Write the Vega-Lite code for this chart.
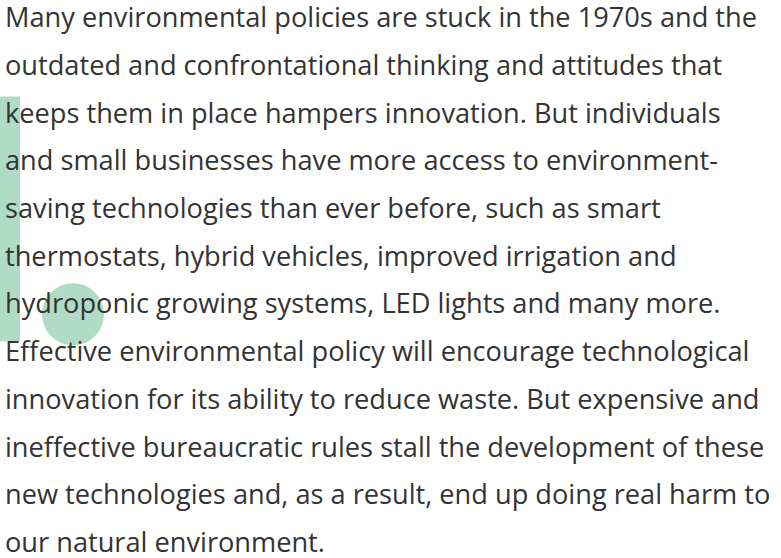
{
  "$schema": "https://vega.github.io/schema/vega-lite/v6.json",
  "autosize": {"type": "fit", "contains": "padding"},
  "width": 781,
  "height": 558,
  "padding": 0,
  "background": "#ffffff",
  "config": {"view": {"stroke": null}},
  "datasets": {
    "lines": [
      {"line": 0, "indent": 5, "text": "Many environmental policies are stuck in the 1970s and the"},
      {"line": 1, "indent": 5, "text": "outdated and confrontational thinking and attitudes that"},
      {"line": 2, "indent": 5, "text": "keeps them in place hampers innovation. But individuals"},
      {"line": 3, "indent": 5, "text": "and small businesses have more access to environment-"},
      {"line": 4, "indent": 5, "text": "saving technologies than ever before, such as smart"},
      {"line": 5, "indent": 5, "text": "thermostats, hybrid vehicles, improved irrigation and"},
      {"line": 6, "indent": 5, "text": "hydroponic growing systems, LED lights and many more."},
      {"line": 7, "indent": 5, "text": "Effective environmental policy will encourage technological"},
      {"line": 8, "indent": 5, "text": "innovation for its ability to reduce waste. But expensive and"},
      {"line": 9, "indent": 5, "text": "ineffective bureaucratic rules stall the development of these"},
      {"line": 10, "indent": 5, "text": "new technologies and, as a result, end up doing real harm to"},
      {"line": 11, "indent": 5, "text": "our natural environment."}
    ],
    "bar": [{"x0": 0, "x1": 20, "top": 1.453, "bottom": 6.581}],
    "dot": [{"x": 73, "line": 6.018}]
  },
  "layer": [
    {
      "data": {"name": "bar"},
      "mark": {"type": "rect", "color": "#b0dbc6"},
      "encoding": {
        "x": {"field": "x0", "type": "quantitative", "scale": {"domain": [0, 781], "nice": false, "zero": false}, "axis": null},
        "x2": {"field": "x1"},
        "y": {"field": "top", "type": "quantitative", "scale": {"domain": [-0.569, 11.063], "nice": false, "zero": false, "reverse": true}, "axis": null},
        "y2": {"field": "bottom"}
      }
    },
    {
      "data": {"name": "dot"},
      "mark": {"type": "circle", "color": "#b0dbc6", "opacity": 1, "size": 3850},
      "encoding": {
        "x": {"field": "x", "type": "quantitative", "scale": {"domain": [0, 781], "nice": false, "zero": false}, "axis": null},
        "y": {"field": "line", "type": "quantitative", "scale": {"domain": [-0.569, 11.063], "nice": false, "zero": false, "reverse": true}, "axis": null}
      }
    },
    {
      "data": {"name": "lines"},
      "mark": {"type": "text", "align": "left", "baseline": "alphabetic", "font": "Open Sans", "fontSize": 27.2, "color": "#333333"},
      "encoding": {
        "x": {"field": "indent", "type": "quantitative", "scale": {"domain": [0, 781], "nice": false, "zero": false}, "axis": null},
        "y": {"field": "line", "type": "quantitative", "scale": {"domain": [-0.569, 11.063], "nice": false, "zero": false, "reverse": true}, "axis": null},
        "text": {"field": "text"}
      }
    }
  ]
}
